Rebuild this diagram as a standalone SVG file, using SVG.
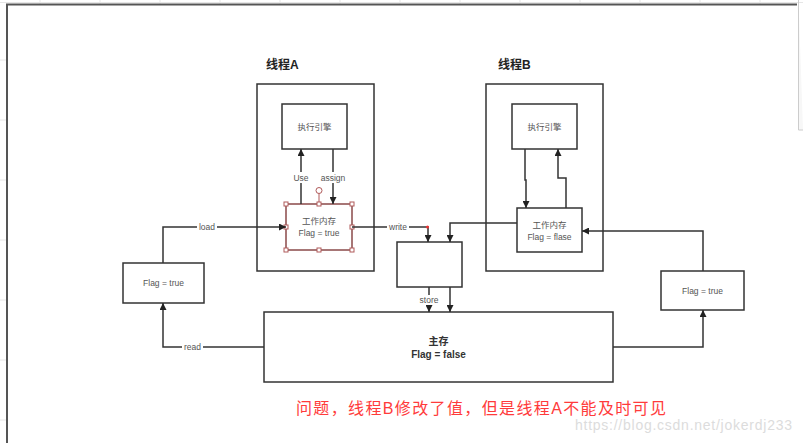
<svg xmlns="http://www.w3.org/2000/svg" width="803" height="443" viewBox="0 0 803 443">
<style>
.box{fill:#fff;stroke:#333;stroke-width:1.5}
.ln{fill:none;stroke:#333;stroke-width:1.5}
.t{font-family:"Liberation Sans","Noto Sans CJK SC",sans-serif;font-size:8.5px;fill:#555;text-anchor:middle}
.lbl{font-family:"Liberation Sans","Noto Sans CJK SC",sans-serif;font-size:8.5px;fill:#555;text-anchor:middle}
.title{font-family:"Liberation Sans","Noto Sans CJK SC",sans-serif;font-size:12px;font-weight:bold;fill:#222}
.h{fill:#fff;stroke:#b05a5a;stroke-width:1}
</style>
<defs>
<marker id="ar" viewBox="0 0 10 10" refX="10" refY="5" markerWidth="7" markerHeight="7" markerUnits="userSpaceOnUse" orient="auto">
<path d="M0,0 L10,5 L0,10 z" fill="#222"/>
</marker>
</defs>
<rect width="803" height="443" fill="#fff"/>
<g id="grid" stroke="#e6e6e6" stroke-width="1">
<path d="M0,2.5 H803 M0,60 H7 M0,120 H7 M0,180 H7 M0,240 H7 M0,300 H7 M0,360 H7 M0,420 H7 M40,0 V4 M100,0 V4 M160,0 V4 M220,0 V4 M280,0 V4 M340,0 V4 M400,0 V4 M460,0 V4 M520,0 V4 M580,0 V4 M640,0 V4 M700,0 V4 M760,0 V4"/>
</g>
<g id="frame">
<path d="M7,443 V4.5 H797" fill="none" stroke="#555" stroke-width="2"/>
<path d="M798.5,0 V130 H803" fill="#f7f7f7" stroke="#ccc" stroke-width="1"/>
</g>
<g id="threadA">
<rect class="box" x="257" y="84" width="117" height="187"/>
<text class="title" x="266" y="69">线程A</text>
</g>
<g id="threadB">
<rect class="box" x="486" y="84" width="117" height="187"/>
<text class="title" x="498" y="69">线程B</text>
</g>
<g id="engineA">
<rect class="box" x="282" y="104" width="65" height="45"/>
<text class="t" x="314.5" y="130">执行引擎</text>
</g>
<g id="engineB">
<rect class="box" x="512" y="104" width="65" height="45"/>
<text class="t" x="544.5" y="130">执行引擎</text>
</g>
<g id="workA">
<rect x="286" y="204" width="66" height="46" fill="#fff" stroke="#8a4a4a" stroke-width="1.5"/>
<text class="t" x="319" y="224">工作内存</text>
<text class="t" x="319" y="236">Flag = true</text>
<line x1="319" y1="193" x2="319" y2="204" stroke="#b05a5a" stroke-width="1"/>
<circle class="h" cx="319" cy="190.5" r="3"/>
<rect class="h" x="284" y="202" width="4" height="4"/>
<rect class="h" x="317" y="202" width="4" height="4"/>
<rect class="h" x="350" y="202" width="4" height="4"/>
<rect class="h" x="284" y="225" width="4" height="4"/>
<rect class="h" x="350" y="225" width="4" height="4"/>
<rect class="h" x="284" y="248" width="4" height="4"/>
<rect class="h" x="317" y="248" width="4" height="4"/>
<rect class="h" x="350" y="248" width="4" height="4"/>
</g>
<g id="workB">
<rect class="box" x="517" y="208" width="65" height="44"/>
<text class="t" x="549.5" y="228">工作内存</text>
<text class="t" x="549.5" y="240">Flag = flase</text>
</g>
<g id="flagLeft">
<rect class="box" x="123" y="263" width="81" height="40"/>
<text class="t" x="163.5" y="286">Flag = true</text>
</g>
<g id="flagRight">
<rect class="box" x="661" y="271" width="83" height="39"/>
<text class="t" x="702.5" y="294">Flag = true</text>
</g>
<g id="middle">
<rect class="box" x="397" y="242" width="65" height="45"/>
</g>
<g id="mainMemory">
<rect class="box" x="264" y="312" width="349" height="70"/>
<text x="438.5" y="345" font-family="'Liberation Sans','Noto Sans CJK SC',sans-serif" font-size="10" font-weight="bold" fill="#333" text-anchor="middle">主存</text>
<text x="438.5" y="358" font-family="'Liberation Sans','Noto Sans CJK SC',sans-serif" font-size="10" font-weight="bold" fill="#333" text-anchor="middle">Flag = false</text>
</g>
<g id="connectors">
<path class="ln" d="M301,204 V149" marker-end="url(#ar)"/>
<path class="ln" d="M333,149 V204" marker-end="url(#ar)"/>
<path class="ln" d="M525,149 V180 H526 V208" marker-end="url(#ar)"/>
<path class="ln" d="M566,208 V178 H558 V149" marker-end="url(#ar)"/>
<path class="ln" d="M163,263 V227 H286" marker-end="url(#ar)"/>
<path class="ln" d="M264,347 H163 V303" marker-end="url(#ar)"/>
<path class="ln" d="M352,227 H428 V242" marker-end="url(#ar)"/>
<path class="ln" d="M517,223 H450 V242" marker-end="url(#ar)"/>
<path class="ln" d="M429,287 V312" marker-end="url(#ar)"/>
<path class="ln" d="M450,287 V312" marker-end="url(#ar)"/>
<path class="ln" d="M703,271 V231 H582" marker-end="url(#ar)"/>
<path class="ln" d="M613,347 H703 V310" marker-end="url(#ar)"/>
<circle cx="427.5" cy="227" r="1.5" fill="#e33"/>
<rect x="291" y="172" width="20" height="11" fill="#fff"/>
<text class="lbl" x="301" y="181">Use</text>
<rect x="320" y="172" width="26" height="11" fill="#fff"/>
<text class="lbl" x="333" y="181">assign</text>
<rect x="197" y="222" width="20" height="10" fill="#fff"/>
<text class="lbl" x="207" y="230">load</text>
<rect x="182" y="342" width="21" height="10" fill="#fff"/>
<text class="lbl" x="192.5" y="350">read</text>
<rect x="387" y="222" width="22" height="10" fill="#fff"/>
<text class="lbl" x="398" y="230">write</text>
<rect x="418" y="295" width="22" height="10" fill="#fff"/>
<text class="lbl" x="429" y="303">store</text>
</g>
<text x="296" y="414" textLength="370" lengthAdjust="spacing" font-family="'Liberation Sans','Noto Sans CJK SC',sans-serif" font-size="16" fill="#ff3b3b">问题，线程B修改了值，但是线程A不能及时可见</text>
<text x="575" y="430" textLength="217" lengthAdjust="spacing" font-family="'Liberation Sans',sans-serif" font-size="14" fill="#dcdcdc">https://blog.csdn.net/jokerdj233</text>
</svg>
